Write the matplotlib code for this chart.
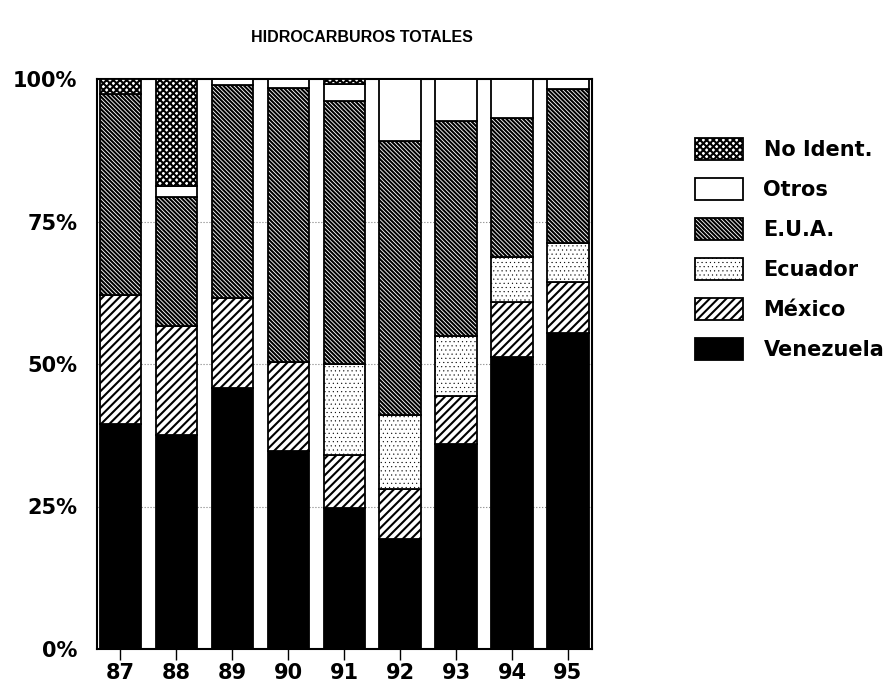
import matplotlib
matplotlib.use("Agg")
import matplotlib.pyplot as plt
import numpy as np

plt.rcParams["font.family"] = ["DejaVu Sans"]
plt.rcParams["font.weight"] = "bold"
plt.rcParams["hatch.linewidth"] = 1.5

years = ["87", "88", "89", "90", "91", "92", "93", "94", "95"]
# share of each origin, percent, bottom to top
venezuela = [39.5, 37.5, 45.8, 34.7, 24.7, 19.3, 36.0, 51.2, 55.4]
mexico = [22.6, 19.2, 15.8, 15.7, 9.3, 8.8, 8.4, 9.7, 9.0]
ecuador = [0.0, 0.0, 0.0, 0.0, 16.0, 12.9, 10.5, 7.9, 6.8]
eua = [35.3, 22.6, 37.3, 48.1, 46.2, 48.1, 37.7, 24.4, 27.0]
otros = [0.0, 1.9, 1.1, 1.5, 2.9, 10.9, 7.4, 6.8, 1.8]
no_ident = [2.6, 18.8, 0.0, 0.0, 0.9, 0.0, 0.0, 0.0, 0.0]

# name, values, face, hatch, hatch line width
series = [
    ("Venezuela", venezuela, "black", None, 1.5),
    ("México", mexico, "white", "////", 1.5),
    ("Ecuador", ecuador, "white", "....", 0.3),
    ("E.U.A.", eua, "white", r"\\\\\\\\", 1.5),
    ("Otros", otros, "white", None, 1.5),
    ("No Ident.", no_ident, "white", "xxxxx", 1.5),
]

fig = plt.figure(figsize=(8.9, 6.92), dpi=100)
ax = fig.add_axes([97 / 890, 1 - 649 / 692, (592 - 97) / 890, (649 - 79) / 692])

x = np.arange(len(years))
bottom = np.zeros(len(years))
handles = []
for name, vals, face, hatch, hlw in series:
    vals = np.array(vals)
    with plt.rc_context({"hatch.linewidth": hlw}):
        bars = ax.bar(x, vals, width=0.74, bottom=bottom, color=face,
                      edgecolor="black", linewidth=1.3, hatch=hatch,
                      label=name, zorder=3)
    for p in bars:
        if hasattr(p, "set_hatch_linewidth"):
            p.set_hatch_linewidth(hlw)
    handles.append(bars)
    bottom = bottom + vals

ax.set_xlim(-0.42, 8.43)
ax.set_ylim(0, 100)
ax.set_yticks([0, 25, 50, 75, 100])
ax.set_yticklabels(["0%", "25%", "50%", "75%", "100%"], fontsize=15,
                   fontweight="bold")
ax.set_xticks(x)
ax.set_xticklabels(years, fontsize=15, fontweight="bold")
ax.tick_params(axis="y", length=0, pad=14)
ax.tick_params(axis="x", direction="out", length=8, width=1, pad=2)
for y in (25, 50, 75):
    ax.axhline(y, color="gray", ls=":", lw=0.8, zorder=1)
for s in ax.spines.values():
    s.set_linewidth(1.5)

fig.text(362 / 890, 1 - 37 / 692, "HIDROCARBUROS TOTALES", ha="center",
         va="center", fontsize=11.5, fontweight="bold",
         family=["Liberation Sans", "DejaVu Sans"])

leg = fig.legend(handles[::-1], [s[0] for s in series][::-1],
                 loc="upper left", bbox_to_anchor=(676 / 890, 1 - 119 / 692),
                 frameon=False, fontsize=15, handlelength=2.3,
                 handleheight=1.3, labelspacing=0.83, handletextpad=1.0)
for t in leg.get_texts():
    t.set_fontweight("bold")
for h, s in zip(leg.legend_handles, series[::-1]):
    if hasattr(h, "set_hatch_linewidth"):
        h.set_hatch_linewidth(s[4])

fig.savefig("out.png", dpi=100)
